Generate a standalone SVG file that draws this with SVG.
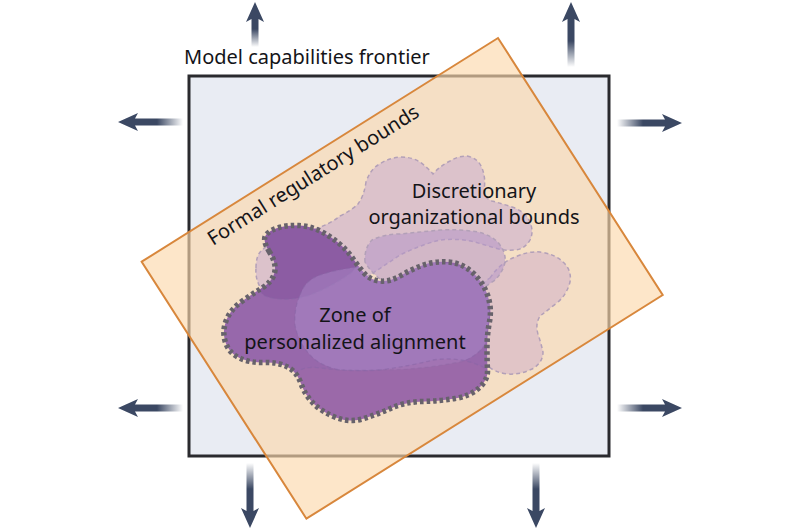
<svg xmlns="http://www.w3.org/2000/svg" xmlns:xlink="http://www.w3.org/1999/xlink" width="800" height="530" viewBox="0 0 800 530">
<style>
.lbl{font-family:"Noto Sans","Liberation Sans",sans-serif;font-size:20px;fill:#141418}
.ctr{text-anchor:middle}
.soft{stroke:#b3a0b8;stroke-width:1.5;stroke-dasharray:4 3;fill-opacity:0.55}
.inner{stroke:#8866a6;stroke-width:1.3;stroke-dasharray:4 3;stroke-opacity:0.55}
</style>
<defs>
<linearGradient id="ag" x1="0" y1="1" x2="0" y2="0">
<stop offset="0" stop-color="#3b4863" stop-opacity="0"/>
<stop offset="0.4" stop-color="#3b4863" stop-opacity="1"/>
<stop offset="1" stop-color="#3b4863" stop-opacity="1"/>
</linearGradient>
<path id="arrL" d="M0,0 L9,20 L3.5,17 L3.5,65 L-3.5,65 L-3.5,17 L-9,20 Z" fill="url(#ag)"/>
<path id="arrS" d="M0,0 L9,20 L3.5,17 L3.5,45 L-3.5,45 L-3.5,17 L-9,20 Z" fill="url(#ag)"/>
<path id="zonePath" d="M269.5,252 Q262,240 266,235 Q270,230 279,227.5 Q288,225 299,225.5 Q310,226 320,231 Q330,236 338.5,243 Q347,250 352.5,258 Q358,266 364,273 Q370,280 380,281 Q390,282 401,275.5 Q412,269 423.5,265 Q435,261 448.5,262 Q462,263 472.5,272.5 Q483,282 487.5,295 Q492,308 489.5,321.5 Q487,335 487,347.5 Q487,360 487.5,370 Q488,380 479,388 Q470,396 455,398.5 Q440,401 422.5,401.5 Q405,402 391.5,408 Q378,414 364,418.5 Q350,423 336,417.5 Q322,412 313.5,403.5 Q305,395 301,383.5 Q297,372 287.5,367 Q278,362 264,362.5 Q250,363 239.5,358 Q229,353 225.5,342.5 Q222,332 226,321 Q230,310 241,302 Q252,294 262,288 Q272,282 274.5,273 Q277,264 269.5,252 Z"/>
<clipPath id="zclip"><use xlink:href="#zonePath"/></clipPath>
</defs>

<g id="frontier">
<rect x="189" y="76" width="420" height="380" fill="#e9ecf3" stroke="#2a2a2e" stroke-width="3"/>
<text class="lbl" x="184" y="64">Model capabilities frontier</text>
</g>

<g id="connectors">
<use xlink:href="#arrS" transform="translate(255,2)"/>
<use xlink:href="#arrL" transform="translate(571,2)"/>
<use xlink:href="#arrL" transform="translate(118,122) rotate(-90)"/>
<use xlink:href="#arrL" transform="translate(682,123) rotate(90)"/>
<use xlink:href="#arrL" transform="translate(118,408) rotate(-90)"/>
<use xlink:href="#arrL" transform="translate(682,408) rotate(90)"/>
<use xlink:href="#arrL" transform="translate(250,528) rotate(180)"/>
<use xlink:href="#arrL" transform="translate(536,528) rotate(180)"/>
</g>

<g id="regulatory">
<polygon points="141.7,261.7 498,38 662.7,295 306.4,518.7" fill="#fcd8ac" fill-opacity="0.65" stroke="#d8873c" stroke-width="2" stroke-linejoin="miter"/>
<text class="lbl" transform="translate(213,246) rotate(-32.1)">Formal regulatory bounds</text>
</g>

<g id="organizational">
<path class="soft" fill="#c7a9cf" d="M256,268 Q256,255 262,250 Q270,243 285,238 Q300,233 315,229 Q330,224 340,216 Q352,210 358,204 Q364,196 366,182 Q370,170 378,165 Q388,158 400,157 Q412,157 420,162 Q428,168 433,174 Q440,166 450,161 Q458,156 467,156 Q478,158 482,168 Q486,178 484,190 Q484,198 492,201 Q503,204 515,208 Q526,213 530,222 Q534,232 530,240 Q525,249 515,250 Q505,251 495,248 Q485,245 475,242 Q458,238 440,240 Q420,245 400,255 Q385,265 370,275 Q350,285 330,290 Q310,296 290,300 Q272,300 262,290 Q255,280 256,268 Z"/>
<path class="soft" fill="#cfaec9" d="M490,278 Q500,263 515,257 Q528,251 540,252 Q555,254 563,262 Q572,270 570,282 Q567,294 558,302 Q548,310 540,316 Q535,324 538,334 Q541,343 543,352 Q543,363 532,369 Q520,375 507,374 Q494,372 488,366 Q476,355 470,340 Q466,320 470,300 Q478,286 490,278 Z"/>
<path class="soft" fill="#b595c9" d="M365,262 Q364,248 372,240 Q384,234 400,234 Q420,232 440,230 Q460,229 478,232 Q494,236 500,245 Q506,253 505,262 Q503,272 495,280 Q480,290 470,300 Q440,300 400,290 Q375,280 365,262 Z"/>
<text class="lbl ctr" x="474" y="198">Discretionary</text>
<text class="lbl ctr" x="474" y="224">organizational bounds</text>
</g>

<g id="zone">
<use xlink:href="#zonePath" fill="#9768ab"/>
<g clip-path="url(#zclip)">
<path fill="#7f4d98" fill-opacity="0.45" class="inner" d="M255,240 Q265,222 290,222 Q320,224 345,245 Q362,262 352,272 Q335,285 310,295 Q285,303 265,296 Q250,285 252,265 Z"/>
<path fill="#ad8dcc" fill-opacity="0.45" class="inner" d="M300,295 Q305,280 320,275 Q335,270 350,268 Q370,265 390,262 Q415,258 440,262 Q468,266 480,275 Q494,290 490,310 Q488,330 485,345 Q475,358 460,362 Q440,366 420,368 Q400,370 380,370 Q360,371 340,370 Q320,366 310,355 Q298,342 295,325 Q294,308 300,295 Z"/>
<path fill="#a46ea6" fill-opacity="0.35" class="inner" d="M290,378 Q300,365 320,368 Q350,372 380,370 Q410,366 433,360 Q460,356 483,367 Q495,380 490,400 Q470,420 420,425 Q360,430 320,420 Q290,400 290,378 Z"/>
</g>
<use xlink:href="#zonePath" fill="none" stroke="#67626b" stroke-width="5.5" stroke-dasharray="3.5 3"/>
<text class="lbl ctr" x="355" y="322" fill="#1c1024">Zone of</text>
<text class="lbl ctr" x="355" y="349" fill="#1c1024">personalized alignment</text>
</g>
</svg>
